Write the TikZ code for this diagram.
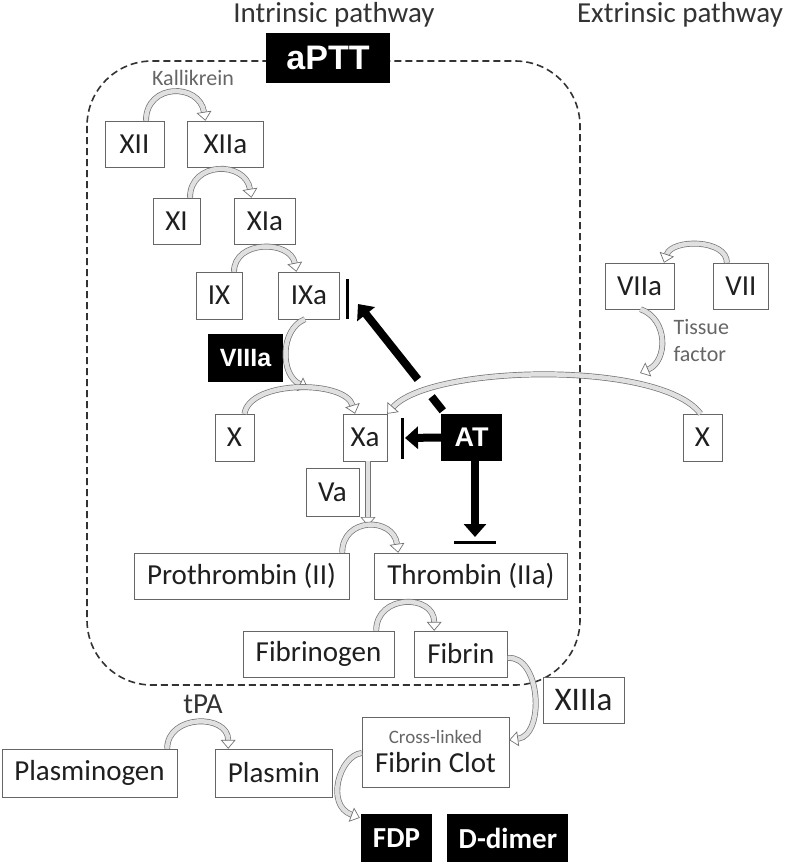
\documentclass[tikz,border=0pt]{standalone}
\usepackage{fontspec}
\setmainfont{Carlito}
\newfontfamily\arialfont{Liberation Sans}
\usetikzlibrary{positioning,arrows.meta}

\tikzset{
  sz/.style 2 args={minimum width=#1pt, minimum height=#2pt},
  fbox/.style={draw=black!60, fill=white, inner sep=0pt, text=black!88,
    font=\fontsize{29}{31}\selectfont},
  dbox/.style={fill=black, inner sep=0pt, text=white,
    font=\bfseries\fontsize{29}{31}\selectfont},
  abox/.style={dbox, font=\arialfont\bfseries\fontsize{#1}{34}\selectfont},
  conv/.style={draw=black!55, line width=0.7pt, double=black!12, double distance=4.5pt,
    -{Triangle[open, length=9pt, width=15pt, line width=0.7pt]}},
  inh/.style={line width=8pt, -{Triangle[length=13pt, width=22pt]}},
  tbar/.style={line width=3pt},
  note/.style={text=black!60, font=\fontsize{22}{27}\selectfont},
  title/.style={text=black!80, font=\fontsize{29}{31}\selectfont},
  frame/.style={draw=black!80, line width=1.6pt, dash pattern=on 7pt off 4pt, rounded corners=65pt},
}

\begin{document}
\begin{tikzpicture}[x=1pt, y=1pt]
\useasboundingbox (0,0) rectangle (787,-864);

% intrinsic frame
\draw[frame] (87,-61) rectangle (580,-685);

\node[title] (intr) at (334,-15) {Intrinsic pathway};
\node[title] (extr) at (680,-15) {Extrinsic pathway};
\node[abox=34, sz={124}{50}] (aPTT) at (328,-58) {aPTT};
\node[note] (kal) at (193,-78) {Kallikrein};

% contact factors
\node[fbox, sz={59}{46}] (XII) at (134.5,-144) {XII};
\node[fbox, sz={76}{46}, right=23pt of XII] (XIIa) {XIIa};
\node[fbox, sz={47}{46}] (XI) at (176.5,-221) {XI};
\node[fbox, sz={61}{46}, right=34pt of XI] (XIa) {XIa};
\node[fbox, sz={46}{47}] (IX) at (219,-295.5) {IX};
\node[fbox, sz={61}{47}, right=36pt of IX] (IXa) {IXa};
\node[abox=25, sz={75}{48}] (VIIIa) at (245.5,-358) {VIIIa};
\node[fbox, sz={39}{47}] (X) at (234.5,-437.5) {X};
\node[fbox, sz={44}{47}] (Xa) at (365,-437.5) {Xa};
\node[abox=27, sz={61}{47}] (AT) at (471.5,-437.5) {AT};
\node[fbox, sz={53}{48}] (Va) at (332.5,-492) {Va};
\node[fbox, sz={215}{46}] (PT) at (241.5,-576) {Prothrombin (II)};
\node[fbox, sz={193}{46}, right=25pt of PT] (TH) {Thrombin (IIa)};
\node[fbox, sz={151}{46}] (FG) at (318.5,-654) {Fibrinogen};
\node[fbox, sz={93}{46}, right=20pt of FG] (FB) {Fibrin};

% extrinsic side
\node[fbox, sz={69}{46}] (VIIa) at (639.5,-286) {VIIa};
\node[fbox, sz={55}{46}, right=39pt of VIIa] (VII) {VII};
\node[note, align=left, anchor=west] (tf) at (670,-341) {Tissue\\factor};
\node[fbox, sz={39}{47}] (Xe) at (702.5,-437.5) {X};

% clot and fibrinolysis
\node[fbox, sz={81}{46}, font=\fontsize{33}{35}\selectfont] (XIIIa) at (583.5,-700) {XIIIa};
\node[fbox, sz={147}{70}, align=center, font=\fontsize{29}{30}\selectfont] (FC) at (435.5,-752)
  {{\color{black!60}\fontsize{19}{20}\selectfont Cross-linked}\\[-1pt]Fibrin Clot};
\node[title] (tpa) at (203,-704) {tPA};
\node[fbox, sz={175}{48}] (PG) at (89.5,-773) {Plasminogen};
\node[fbox, sz={117}{48}, right=38pt of PG] (PL) {Plasmin};
\node[dbox, sz={71}{48}] (FDP) at (396.5,-838) {FDP};
\node[dbox, sz={121}{48}, right=15pt of FDP] (DD) {D-dimer};

\coordinate (xpk) at (308,-388);
\coordinate (tfpt) at (640,-373);
\coordinate (ptpk) at (368,-526);
\coordinate (ixtip) at (358,-304);
\coordinate (xatip) at (405,-438);
\coordinate (thtip) at (475,-537);

% conversions
\draw[conv] ([xshift=11.5pt]XII.north) .. controls +(0,38) and +(-6,38) .. ([xshift=-20pt]XIIa.north);
\draw[conv] ([xshift=13.5pt]XI.north) .. controls +(0,37) and +(-6,37) .. ([xshift=-13.5pt]XIa.north);
\draw[conv] ([xshift=15pt]IX.north) .. controls +(0,32) and +(-6,32) .. ([xshift=-12.5pt]IXa.north);
\draw[conv] ([xshift=-4pt]IXa.south) .. controls +(-25,-10) and +(-28,13) .. (xpk);
\draw[conv] ([xshift=10pt]X.north) .. controls +(5,34) and +(-10,34) .. ([xshift=-10pt]Xa.north);
\draw[conv] ([xshift=-14pt]VII.north) .. controls +(0,24) and +(8,24) .. ([xshift=24.5pt]VIIa.north);
\draw[conv] ([xshift=1pt]VIIa.south) .. controls +(28,-10) and +(28,12) .. (tfpt);
\draw[conv] ([xshift=-2pt]Xe.north) .. controls +(-40,54) and +(43,49) .. (Xa.north east);
\draw[conv] ([xshift=3pt]Xa.south) -- (ptpk);
\draw[conv] ([xshift=-7pt]PT.north east) .. controls +(0,36) and +(-5,36) .. ([xshift=24pt]TH.north west);
\draw[conv] ([xshift=-18pt]FG.north east) .. controls +(0,37) and +(0,37) .. ([xshift=20pt]FB.north west);
\draw[conv] ([yshift=-4pt]FB.east) .. controls +(33,3) and +(36,5) .. ([yshift=12pt]FC.east);
\draw[conv] ([yshift=-1pt]FC.west) .. controls +(-22,-2) and +(-35,13) .. ([xshift=-1pt,yshift=-4pt]FDP.north west);
\draw[conv] ([xshift=-10pt]PG.north east) .. controls +(0,35) and +(0,35) .. ([xshift=13pt]PL.north west);

% antithrombin
\draw[inh, dash pattern=on 18pt off 22pt on 300pt] ([xshift=2pt,yshift=3pt]AT.north west) -- (ixtip);
\draw[tbar] ([xshift=8pt,yshift=-7pt]IXa.north east) -- ([xshift=8pt]IXa.south east);
\draw[inh] (AT.west) -- (xatip);
\draw[tbar] ([xshift=15pt,yshift=-4pt]Xa.north east) -- ([xshift=15pt,yshift=2pt]Xa.south east);
\draw[inh] ([xshift=3.5pt]AT.south) -- (thtip);
\draw[tbar] ([xshift=-21pt,yshift=-5pt]thtip) -- ([xshift=21pt,yshift=-5pt]thtip);
\end{tikzpicture}
\end{document}
